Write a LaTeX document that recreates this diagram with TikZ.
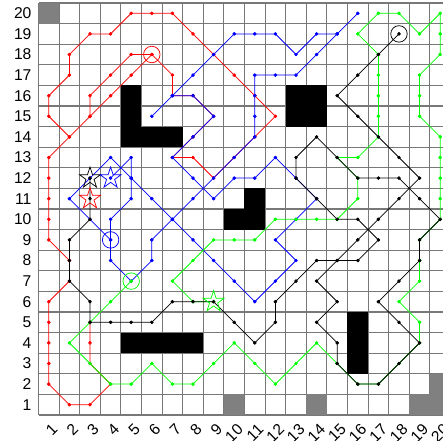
\documentclass[tikz,border=0pt]{standalone}
\usepackage{fontspec}
\setmainfont{Liberation Sans}
\usepackage{tikz}
\usetikzlibrary{
  shapes.geometric
}
\definecolor{GridGray}{RGB}{120,120,120}
\definecolor{CellGray}{RGB}{128,128,128}
\definecolor{WalkRed}{RGB}{255,0,0}
\definecolor{WalkBlue}{RGB}{0,0,255}
\definecolor{WalkGreen}{RGB}{0,255,0}
\tikzset{
  gridline/.style={draw=GridGray,line width=0.8pt},
  wallcell/.style={fill=black},
  greycell/.style={fill=CellGray},
  walk/.style={line width=0.5pt,line join=round,mark=*,mark size=1pt},
  redwalk/.style={walk,draw=WalkRed,mark options={draw=WalkRed,fill=WalkRed}},
  bluewalk/.style={walk,draw=WalkBlue,mark options={draw=WalkBlue,fill=WalkBlue}},
  greenwalk/.style={walk,draw=WalkGreen,mark options={draw=WalkGreen,fill=WalkGreen}},
  blackwalk/.style={walk,draw=black,mark options={draw=black,fill=black}},
  startstar/.style={star,star points=5,star point ratio=2.618,minimum size=5.4mm,inner sep=0pt,draw,line width=0.5pt},
  goalring/.style={circle,minimum size=4mm,inner sep=0pt,draw,line width=0.5pt},
  rowlabel/.style={anchor=east,inner sep=0pt,font=\fontsize{10.8}{12}\selectfont},
  collabel/.style={anchor=east,rotate=45,inner sep=0pt,font=\fontsize{10.8}{12}\selectfont}
}

\begin{document}
\begin{tikzpicture}[x=5mm,y=5mm]
\useasboundingbox (-1.369,-0.762) rectangle (20.136,20.646);
\fill[white] (-1.369,-0.762) rectangle (20.136,20.646);

% grid
\foreach \k in {0,...,20} {
  \draw[gridline] (\k+0.5,0.5) -- (\k+0.5,20.5);
  \draw[gridline] (0.5,\k+0.5) -- (20.5,\k+0.5);
}

% marked cells and obstacles
\foreach \c/\r in {1/20,10/1,14/1,19/1,20/1,20/2}
  \fill[greycell] (\c-0.5,\r-0.5) rectangle (\c+0.5,\r+0.5);
\fill[wallcell] (4.5,13.5) rectangle (5.5,16.5);
\fill[wallcell] (5.5,13.5) rectangle (7.5,14.5);
\fill[wallcell] (12.5,14.5) rectangle (14.5,16.5);
\fill[wallcell] (9.5,9.5) rectangle (11.5,10.5);
\fill[wallcell] (10.5,10.5) rectangle (11.5,11.5);
\fill[wallcell] (4.5,3.5) rectangle (8.5,4.5);
\fill[wallcell] (15.5,2.5) rectangle (16.5,5.5);

% axis labels
\foreach \r in {1,...,20}
  \node[rowlabel] (row\r) at (0.17,\r) {\r};
\foreach \c in {1,...,20}
  \node[collabel] (col\c) at (\c+0.3,-0.07) {\c};

% red robot
\draw[redwalk] plot coordinates {(3,5) (3,4) (3,3) (4,2) (3,1) (2,1) (1,2) (1,3) (1,4) (1,5) (1,6) (2,7) (2,8) (1,9) (1,10) (1,11) (1,12) (1,13) (2,14) (1,15) (1,16) (2,17) (2,18) (3,19) (4,19) (5,20) (6,20) (7,20) (8,19) (9,18) (10,17) (11,16) (12,15) (11,14) (10,13) (9,12) (8,13) (7,13) (8,14) (9,15) (8,16) (7,16) (7,17) (6,18) (5,17) (4,16) (3,15) (2,14)};
\draw[redwalk] plot coordinates {(6,18) (5,18) (4,17) (3,16) (3,15)};

% blue robot
\draw[bluewalk] plot coordinates {(16,20) (15,19) (14,19) (13,18) (12,19) (11,19) (10,19) (9,18) (8,17) (7,16) (6,15)};
\draw[bluewalk] plot coordinates {(7,16) (8,16) (9,15) (8,14) (7,13) (8,12) (9,11) (10,12) (11,12) (12,13) (13,12) (14,11) (13,10) (12,9) (13,8) (12,7) (11,6) (10,7) (9,8) (8,9) (7,10) (6,11) (5,12) (4,13) (3,12) (2,11) (3,10) (4,9)};
\draw[bluewalk] plot coordinates {(15,19) (14,18) (13,17) (12,17) (11,17) (11,16) (11,15) (11,14) (10,13) (9,12) (8,11) (7,10) (6,9) (6,8) (5,7) (4,8) (4,9) (4,10) (5,11) (5,12) (5,13) (4,12)};

% green robot
\draw[greenwalk] plot coordinates {(9,6) (8,6) (7,7) (8,8) (9,9) (10,9) (11,9) (12,10) (13,10) (14,10) (15,10) (16,11) (16,12) (15,13) (16,13) (17,14) (17,15) (17,16) (17,17) (17,18) (16,19) (17,20) (18,20) (19,19) (20,20) (20,19) (20,18) (19,17) (19,16) (19,15) (20,14) (20,13) (20,12) (20,11) (20,10) (19,9) (19,8) (19,7) (18,6) (19,5) (19,4) (18,3) (17,2) (16,2) (15,3) (14,4) (13,3) (12,2) (11,3) (10,4) (9,3) (8,2) (7,2) (6,3) (5,2) (4,2) (3,3) (2,4) (3,5) (4,6) (5,7)};

% black robot
\draw[blackwalk] plot coordinates {(3,12) (3,11) (3,10) (2,9) (2,8) (2,7) (3,6) (3,5) (4,5) (5,5) (6,5) (7,6) (8,6) (9,6) (10,5) (11,4) (12,5) (12,6) (13,7) (14,8) (15,8) (16,8) (17,9) (16,10) (15,10) (14,11) (13,12) (13,13) (14,14) (15,13) (16,12) (17,12) (18,12) (19,11) (20,10) (19,9) (19,8) (18,7) (17,6) (18,5) (19,4) (18,3) (17,2) (16,2) (15,3) (15,4) (14,5) (15,6) (14,7) (15,8) (16,9) (17,10) (18,11) (19,12) (18,13) (17,14) (16,15) (15,16) (16,17) (17,18) (18,19)};

% starts and goals
\node[startstar,draw=WalkRed] (redstart) at (3,11) {};
\node[startstar,draw=black] (blackstart) at (3,12) {};
\node[startstar,draw=WalkBlue] (bluestart) at (4,12) {};
\node[startstar,draw=WalkGreen] (greenstart) at (9,6) {};
\node[goalring,draw=WalkRed] (redgoal) at (6,18) {};
\node[goalring,draw=WalkBlue] (bluegoal) at (4,9) {};
\node[goalring,draw=WalkGreen] (greengoal) at (5,7) {};
\node[goalring,draw=black] (blackgoal) at (18,19) {};
\end{tikzpicture}
\end{document}
